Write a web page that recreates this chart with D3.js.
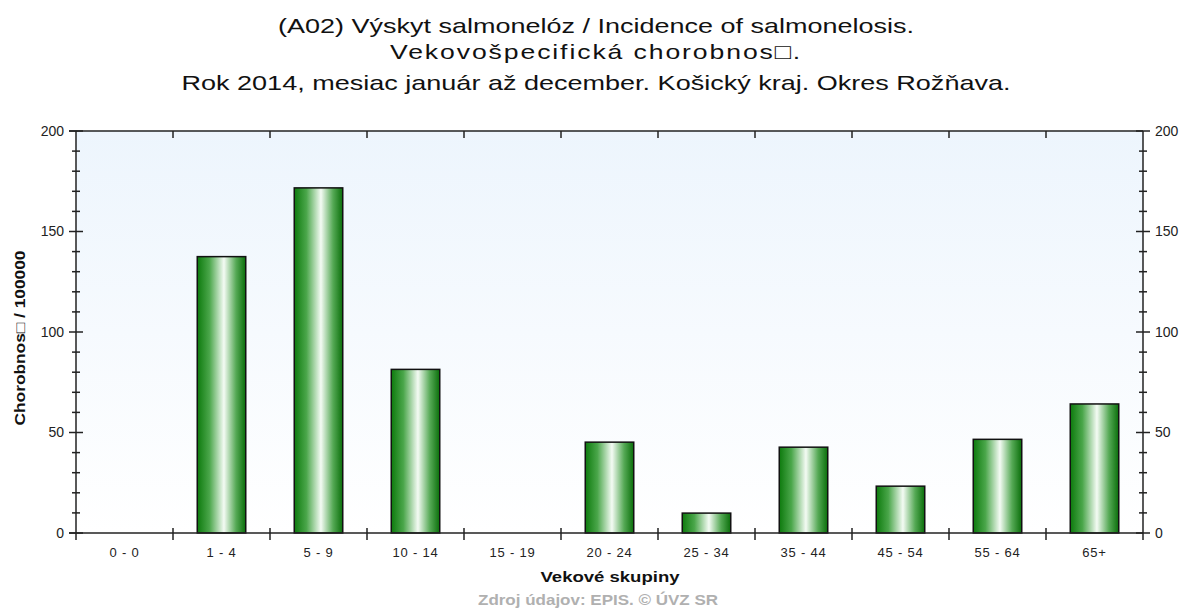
<!DOCTYPE html>
<html>
<head>
<meta charset="utf-8">
<script src="https://cdn.jsdelivr.net/npm/d3@7"></script>
<style>
  body { margin: 0; background: #fff; }
  svg text { font-family: "Liberation Sans", Arial, sans-serif; }
</style>
</head>
<body>
<svg id="chart" width="1185" height="610"></svg>
<script>
const categories = ["0 - 0", "1 - 4", "5 - 9", "10 - 14", "15 - 19", "20 - 24", "25 - 34", "35 - 44", "45 - 54", "55 - 64", "65+"]
const values = [0, 137.5, 171.7, 81.4, 0, 45.2, 9.9, 42.7, 23.3, 46.6, 64.2]
const majorTicks = [0, 50, 100, 150, 200]
const minorTicks = d3.range(0, 201, 10)
const titleLines = [
    "(A02) Výskyt salmonelóz / Incidence of salmonelosis.",
    "Vekovošpecifická  chorobnos□.",
    "Rok 2014, mesiac január až december. Košický kraj. Okres Rožňava."
]

const margin = { left: 76, right: 1143, top: 131, bottom: 533 }
const svg = d3.select("#chart")
const defs = svg.append("defs")

// background gradient
const bg = defs.append("linearGradient").attr("id", "bg")
    .attr("x1", 0).attr("y1", 0).attr("x2", 0).attr("y2", 1)
bg.append("stop").attr("offset", "0%").attr("stop-color", "#edf5fd")
bg.append("stop").attr("offset", "100%").attr("stop-color", "#ffffff")

// bar gradient (cylinder look)
const bar = defs.append("linearGradient").attr("id", "bar")
    .attr("x1", 0).attr("y1", 0).attr("x2", 1).attr("y2", 0)
bar.append("stop").attr("offset", "0%").attr("stop-color", "#0d7a0d")
bar.append("stop").attr("offset", "25%").attr("stop-color", "#4aa64a")
bar.append("stop").attr("offset", "55%").attr("stop-color", "#f4fbf4")
bar.append("stop").attr("offset", "80%").attr("stop-color", "#55a955")
bar.append("stop").attr("offset", "100%").attr("stop-color", "#0a6e0a")

const x = d3.scaleBand().domain(categories).range([margin.left, margin.right]).paddingInner(0).paddingOuter(0)
const y = d3.scaleLinear().domain([0, 200]).range([margin.bottom, margin.top])

svg.append("rect")
    .attr("x", margin.left).attr("y", margin.top)
    .attr("width", margin.right - margin.left).attr("height", margin.bottom - margin.top)
    .attr("fill", "url(#bg)")

// bars
const bw = x.bandwidth() * 0.5
svg.append("g")
    .selectAll("rect")
    .data(values.map((v, i) => ({ cat: categories[i], v })).filter(d => d.v > 0))
    .join("rect")
    .attr("x", d => x(d.cat) + (x.bandwidth() - bw) / 2)
    .attr("y", d => y(d.v))
    .attr("width", bw)
    .attr("height", d => y(0) - y(d.v))
    .attr("fill", "url(#bar)")
    .attr("stroke", "#111")
    .attr("stroke-width", 1.5)

const axisColor = "#222"
// frame
const frame = svg.append("g").attr("stroke", axisColor).attr("stroke-width", 1.5).attr("fill", "none")
frame.append("line").attr("x1", margin.left - 7).attr("x2", margin.right).attr("y1", margin.top).attr("y2", margin.top)
frame.append("line").attr("x1", margin.left - 7).attr("x2", margin.right).attr("y1", margin.bottom).attr("y2", margin.bottom)
frame.append("line").attr("x1", margin.left).attr("x2", margin.left).attr("y1", margin.top).attr("y2", margin.bottom + 7)
frame.append("line").attr("x1", margin.right).attr("x2", margin.right).attr("y1", margin.top).attr("y2", margin.bottom + 7)

// x ticks at band boundaries
const bounds = categories.slice(1).map(c => x(c))
frame.selectAll(".xb").data(bounds).join("line")
    .attr("x1", d => d).attr("x2", d => d)
    .attr("y1", margin.bottom - 5).attr("y2", margin.bottom + 7)
frame.selectAll(".xt").data(bounds).join("line")
    .attr("x1", d => d).attr("x2", d => d)
    .attr("y1", margin.top).attr("y2", margin.top + 7)

// y ticks, both sides
const sides = [margin.left, margin.right]
sides.forEach(sx => {
    frame.append("g").selectAll("line").data(minorTicks).join("line")
        .attr("x1", d => majorTicks.includes(d) ? sx - 7 : sx - 4)
        .attr("x2", d => majorTicks.includes(d) ? sx + 7 : sx + 4)
        .attr("y1", d => y(d)).attr("y2", d => y(d))
})

// y tick labels
svg.append("g").selectAll("text").data(majorTicks).join("text")
    .attr("x", margin.left - 12).attr("y", d => y(d)).attr("dy", "0.35em")
    .attr("text-anchor", "end").attr("font-size", 14).attr("fill", "#222")
    .text(d => d)
svg.append("g").selectAll("text").data(majorTicks).join("text")
    .attr("x", margin.right + 12).attr("y", d => y(d)).attr("dy", "0.35em")
    .attr("text-anchor", "start").attr("font-size", 14).attr("fill", "#222")
    .text(d => d)

// x labels
svg.append("g").selectAll("text").data(categories).join("text")
    .attr("x", d => x(d) + x.bandwidth() / 2).attr("y", margin.bottom + 24)
    .attr("text-anchor", "middle").attr("font-size", 13).attr("fill", "#222")
    .attr("letter-spacing", "0.8px")
    .text(d => d)

// axis titles
svg.append("text")
    .attr("x", 610).attr("y", 582)
    .attr("text-anchor", "middle").attr("font-size", 15).attr("font-weight", "bold").attr("fill", "#111")
    .attr("textLength", 139).attr("lengthAdjust", "spacingAndGlyphs")
    .text("Vekové skupiny")
svg.append("text")
    .attr("transform", `translate(25,${(margin.top + margin.bottom) / 2 + 6}) rotate(-90)`)
    .attr("text-anchor", "middle").attr("font-size", 14).attr("font-weight", "bold").attr("fill", "#111")
    .attr("textLength", 175).attr("lengthAdjust", "spacingAndGlyphs")
    .text("Chorobnos□ / 100000")

// source
svg.append("text")
    .attr("x", 598).attr("y", 605)
    .attr("text-anchor", "middle").attr("font-size", 15).attr("font-weight", "bold").attr("fill", "#b0b0b0")
    .attr("textLength", 240).attr("lengthAdjust", "spacingAndGlyphs")
    .text("Zdroj údajov: EPIS. © ÚVZ SR")

// title
const titleWidths = [636, 412, 829]
const titleBase = [33, 59, 90]
svg.append("g").selectAll("text").data(titleLines).join("text")
    .attr("x", 596).attr("y", (d, i) => titleBase[i])
    .attr("text-anchor", "middle").attr("font-size", 21).attr("fill", "#111")
    .attr("letter-spacing", (d, i) => i === 1 ? "1.5px" : null)
    .attr("textLength", (d, i) => titleWidths[i])
    .attr("lengthAdjust", "spacingAndGlyphs")
    .text(d => d)
</script>
</body>
</html>
